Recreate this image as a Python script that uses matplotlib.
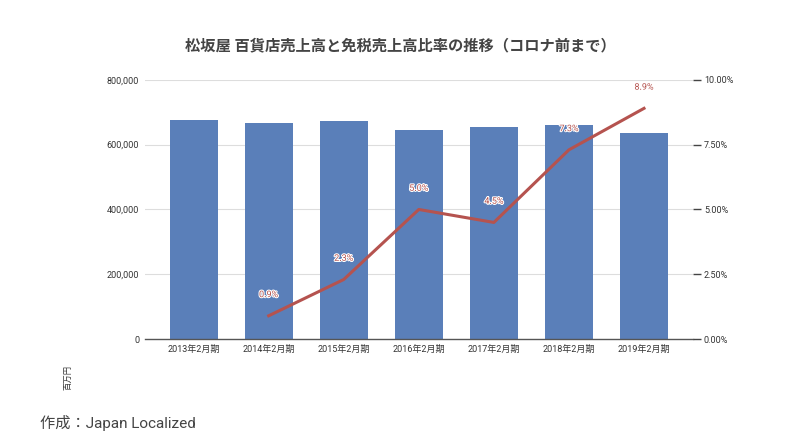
import matplotlib
matplotlib.use("Agg")
import matplotlib.pyplot as plt
import matplotlib.patheffects as pe
from matplotlib.ticker import FuncFormatter

plt.rcParams['font.family'] = ['Roboto', 'Noto Sans CJK JP', 'DejaVu Sans']

categories = ["2013年2月期", "2014年2月期", "2015年2月期", "2016年2月期",
              "2017年2月期", "2018年2月期", "2019年2月期"]
sales = [676000, 668000, 673000, 645000, 655000, 661000, 636000]
rate_cats = categories[1:]
duty_free_rate = [0.9, 2.3, 5.0, 4.5, 7.3, 8.9]
rate_labels = ["0.9%", "2.3%", "5.0%", "4.5%", "7.3%", "8.9%"]

title = "松坂屋 百貨店売上高と免税売上高比率の推移（コロナ前まで）"
bar_color = "#5a7fb9"
line_color = "#b5534f"

fig = plt.figure(figsize=(8, 4.41), dpi=100)
ax = fig.add_axes([0.181, 0.231, 0.685, 0.588])
x = list(range(len(categories)))
ax.bar(x, sales, width=0.64, color=bar_color, zorder=2)
ax.set_xlim(-0.65, 6.65)
ax.set_ylim(0, 800000)
ax.set_yticks([0, 200000, 400000, 600000, 800000])
ax.yaxis.set_major_formatter(FuncFormatter(lambda v, p: f"{int(v):,}"))
ax.set_xticks(x)
ax.set_xticklabels(categories)
ax.tick_params(axis='both', length=0, labelsize=6.5, colors="#333333", pad=4)
ax.grid(axis='y', color="#dddddd", linewidth=0.8, zorder=0)
for s in ['top', 'right', 'left']:
    ax.spines[s].set_visible(False)
ax.spines['bottom'].set_color("#555555")
ax.spines['bottom'].set_linewidth(1.0)

ax2 = ax.twinx()
rx = [categories.index(c) for c in rate_cats]
ax2.plot(rx, duty_free_rate, color=line_color, linewidth=2.2, zorder=3)
ax2.set_ylim(0, 10)
ax2.set_yticks([0, 2.5, 5, 7.5, 10])
ax2.yaxis.set_major_formatter(FuncFormatter(lambda v, p: f"{v:.2f}%"))
ax2.tick_params(axis='y', length=6, width=1, colors="#333333", labelsize=6.5, pad=2)
ax2.tick_params(axis='y', color="#444444")
for s in ['top', 'right', 'left', 'bottom']:
    ax2.spines[s].set_visible(False)
for xi, yi, lab in zip(rx, duty_free_rate, rate_labels):
    ax2.annotate(lab, (xi, yi), xytext=(0, 12), textcoords='offset points',
                 ha='center', va='bottom', fontsize=6.5, color=line_color,
                 path_effects=[pe.withStroke(linewidth=1.5, foreground='white')])

fig.text(0.5, 0.895, title, ha='center', va='center', fontsize=11,
         fontweight='bold', color="#444444")
fig.text(0.084, 0.145, "百万円", rotation=90, ha='center', va='center',
         fontsize=6, color="#333333")
fig.text(0.05, 0.04, "作成：Japan Localized", ha='left', va='center',
         fontsize=11, color="#444444")

fig.savefig("out.png", dpi=100, facecolor="white")
